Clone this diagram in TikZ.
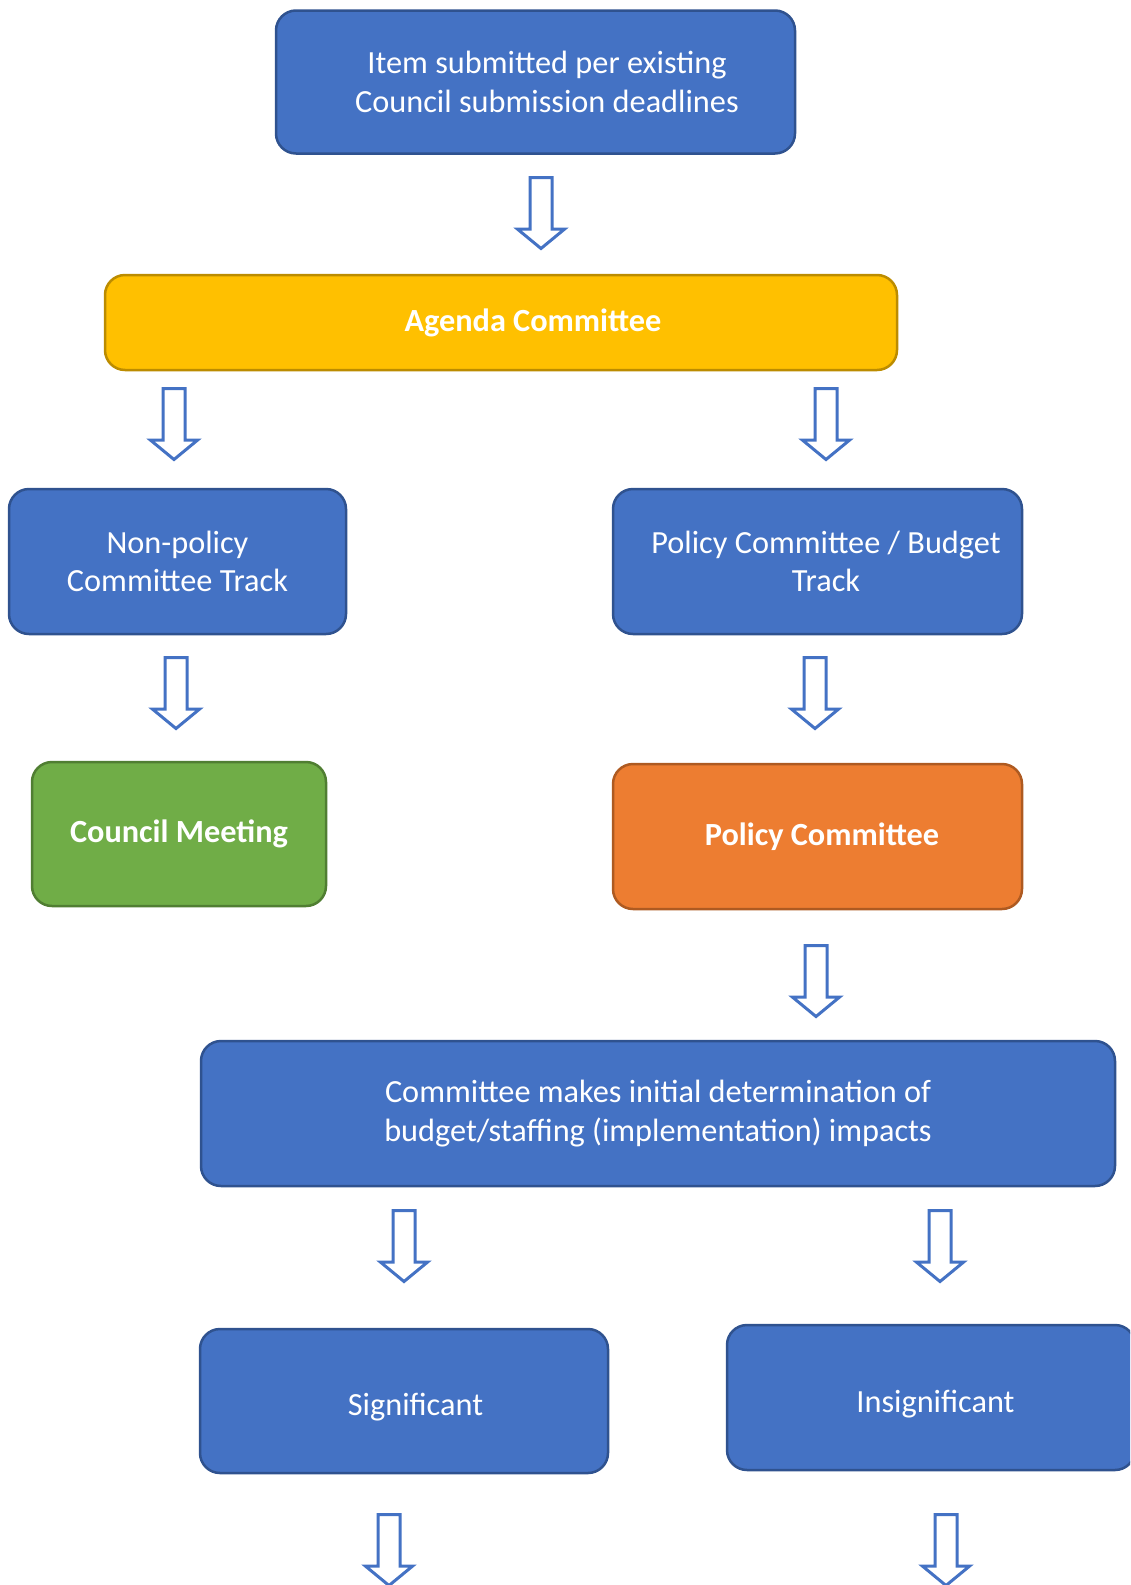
\documentclass[tikz,border=0pt]{standalone}
\usepackage{fontspec}
\setmainfont{Carlito}
\usetikzlibrary{shapes.arrows}
\definecolor{boxblue}{HTML}{4472C4}
\definecolor{boxblueline}{HTML}{2F528F}
\definecolor{agendafill}{HTML}{FFC000}
\definecolor{agendaline}{HTML}{BC8C00}
\definecolor{meetfill}{HTML}{70AD47}
\definecolor{meetline}{HTML}{507E32}
\definecolor{polfill}{HTML}{ED7D31}
\definecolor{polline}{HTML}{AE5A21}
\tikzset{
  stage/.style={rectangle, rounded corners=20pt, line width=2.5pt, draw=boxblueline,
    fill=boxblue, text=white, align=center, inner sep=0pt,
    font=\fontsize{32.3}{38.5}\selectfont},
  stagebold/.style={stage, font=\fontsize{32.3}{38.5}\selectfont\bfseries},
  downarrow/.style={single arrow, draw=boxblue, fill=white, line width=3pt,
    minimum height=71pt, minimum width=0pt, inner xsep=0pt, inner ysep=9.5pt,
    single arrow head extend=12.5pt, single arrow tip angle=101,
    rotate=-90, anchor=tail}
}
\begin{document}
\begin{tikzpicture}[x=1pt, y=-1pt]
\useasboundingbox (0,0) rectangle (1130,1585);
\clip (0,0) rectangle (1130,1585);

\node[stage, minimum width=519pt, minimum height=143pt] (submit) at (535.5,82)
  {\hspace*{23pt}Item submitted per existing\\\hspace*{23pt}Council submission deadlines};
\node[stagebold, draw=agendaline, fill=agendafill, minimum width=792pt, minimum height=95pt]
  (agenda) at (501,322.5) {\hspace*{64pt}Agenda Committee};

\node[stage, minimum width=337pt, minimum height=145pt] (nonpolicy) at (177.5,561.5)
  {Non-policy\\Committee Track};
\node[stage, minimum width=409pt, minimum height=145pt] (budget) at (817.5,561.5)
  {\hspace*{17pt}Policy Committee / Budget\\\hspace*{17pt}Track};

\node[stagebold, draw=meetline, fill=meetfill, minimum width=294pt, minimum height=144pt]
  (meeting) at (179,834) {Council Meeting};
\node[stagebold, draw=polline, fill=polfill, minimum width=409pt, minimum height=145pt]
  (policy) at (817.5,836.5) {\hspace*{9pt}Policy Committee};

\node[stage, minimum width=914pt, minimum height=145pt] (impacts) at (658,1113.5)
  {Committee makes initial determination of\\budget/staffing (implementation) impacts};

\node[stage, minimum width=408pt, minimum height=144pt, text height=36pt, text depth=7pt]
  (significant) at (404,1401) {\hspace*{23pt}Significant};
\node[stage, minimum width=408pt, minimum height=145pt, text height=36pt, text depth=7pt]
  (insignificant) at (931,1397.5) {\hspace*{9pt}Insignificant};

\node[downarrow] (toagenda) at (541,176) {};
\node[downarrow] (tononpolicy) at (174,387) {};
\node[downarrow] (tobudget) at (826,387) {};
\node[downarrow] (tomeeting) at (176,656) {};
\node[downarrow] (topolicy) at (815,656) {};
\node[downarrow] (toimpacts) at (816,944) {};
\node[downarrow] (tosignificant) at (404,1209) {};
\node[downarrow] (toinsignificant) at (940,1209) {};
\node[downarrow] (fromsignificant) at (389,1513) {};
\node[downarrow] (frominsignificant) at (946,1513) {};
\end{tikzpicture}
\end{document}
